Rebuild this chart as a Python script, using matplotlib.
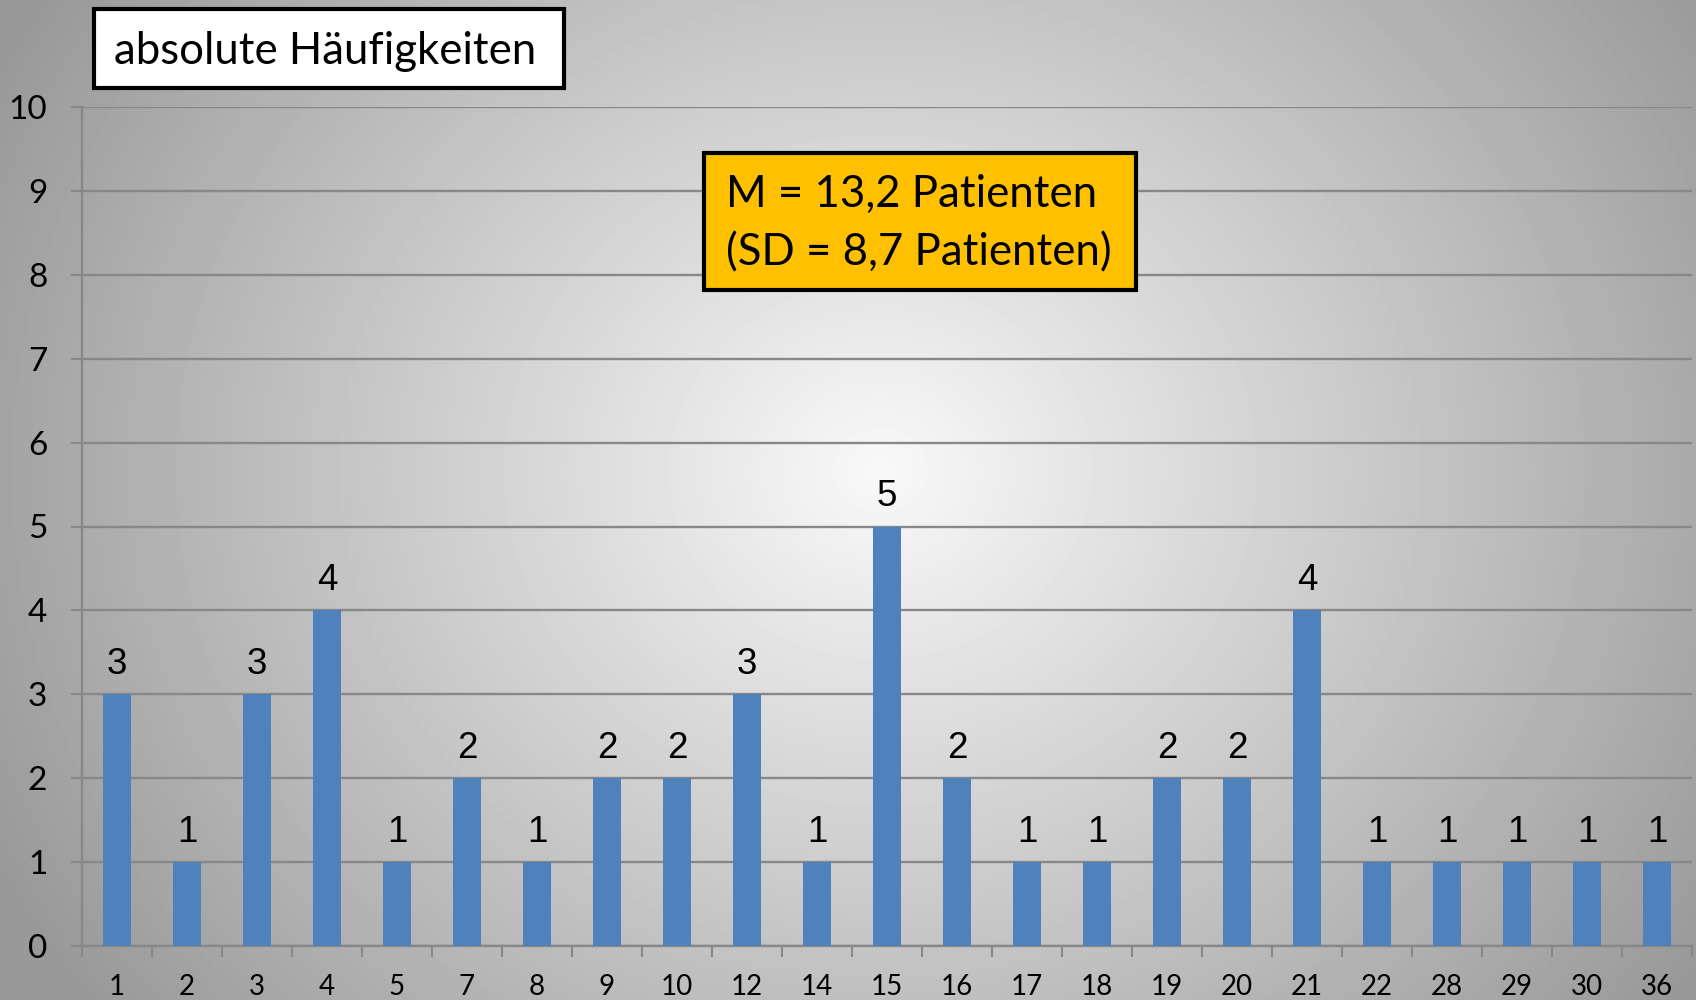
"""
Haeufigkeitsverteilung: Patienten pro Einheit (absolute Haeufigkeiten).
"""

import numpy as np
import matplotlib.pyplot as plt
from matplotlib.patches import Rectangle

# data
categories = ["1", "2", "3", "4", "5", "7", "8", "9", "10", "12", "14", "15",
              "16", "17", "18", "19", "20", "21", "22", "28", "29", "30", "36"]
counts = [3, 1, 3, 4, 1, 2, 1, 2, 2, 3, 1, 5, 2, 1, 1, 2, 2, 4, 1, 1, 1, 1, 1]
y_ticks = list(range(0, 11))

title_text = "absolute Häufigkeiten"
stats_lines = ["M = 13,2 Patienten", "(SD = 8,7 Patienten)"]

BAR_COLOR = "#4F81BD"
GRID_COLOR = "#888888"
CALIBRI_LIKE = ["Lato", "DejaVu Sans"]
ARIAL_LIKE = ["Liberation Sans", "DejaVu Sans"]

W, H = 1696, 1000
fig = plt.figure(figsize=(W / 100, H / 100), dpi=100)

# radial grey background, light in the middle
bg = fig.add_axes([0, 0, 1, 1], zorder=-10)
xx, yy = np.meshgrid(np.arange(W), np.arange(H))
r = np.sqrt(((xx - 880) / 920.0) ** 2 + ((yy - 470) / 820.0) ** 2)
shade = np.clip(0.975 - 0.35 * r, 0.6, 1.0)
bg.imshow(shade, cmap="gray", vmin=0, vmax=1, aspect="auto",
          extent=[0, W, H, 0], interpolation="bilinear")
bg.set_xlim(0, W)
bg.set_ylim(H, 0)
bg.axis("off")

ax = fig.add_axes([82 / W, 1 - 946 / H, (1692 - 82) / W, (946 - 107) / H])
ax.set_facecolor("none")

x = np.arange(len(categories))
ax.bar(x, counts, width=0.4, color=BAR_COLOR, zorder=3)

for xi, c in zip(x, counts):
    ax.annotate(str(c), (xi, c), xytext=(0, 9), textcoords="offset points",
                ha="center", va="bottom", fontsize=26.5, family=ARIAL_LIKE,
                color="black", zorder=4)

ax.set_xlim(-0.5, len(categories) - 0.5)
ax.set_ylim(0, 10)
ax.set_yticks(y_ticks)
ax.set_yticklabels([str(t) for t in y_ticks], fontsize=24, family=CALIBRI_LIKE)
ax.set_xticks(x)
ax.set_xticklabels(categories, fontsize=20, family=CALIBRI_LIKE)
ax.set_xticks(np.arange(-0.5, len(categories)), minor=True)

ax.tick_params(axis="x", which="major", length=0, pad=20)
ax.tick_params(axis="x", which="minor", length=8, width=1.5, color=GRID_COLOR)
ax.tick_params(axis="y", length=8, width=1.5, color=GRID_COLOR, pad=17)

ax.grid(axis="y", color=GRID_COLOR, linewidth=1.7, zorder=1)
ax.set_axisbelow(True)
for side in ["top", "right"]:
    ax.spines[side].set_visible(False)
for side in ["left", "bottom"]:
    ax.spines[side].set_color(GRID_COLOR)
    ax.spines[side].set_linewidth(1.7)

# title box (top left)
fig.patches.append(Rectangle((94 / W, 1 - 88 / H), (564 - 94) / W, (88 - 9) / H,
                             transform=fig.transFigure, facecolor="white",
                             edgecolor="black", linewidth=3, zorder=5))
fig.text(114 / W, 1 - 64 / H, title_text, fontsize=31.5, family=CALIBRI_LIKE,
         va="baseline", ha="left", zorder=6)

# yellow stats box
fig.patches.append(Rectangle((704 / W, 1 - 290 / H), (1136 - 704) / W, (290 - 153) / H,
                             transform=fig.transFigure, facecolor="#FFC000",
                             edgecolor="black", linewidth=3, zorder=5))
fig.text(726 / W, 1 - 207 / H, stats_lines[0], fontsize=31.5, family=CALIBRI_LIKE,
         va="baseline", ha="left", zorder=6)
fig.text(726 / W, 1 - 265 / H, stats_lines[1], fontsize=31.5, family=CALIBRI_LIKE,
         va="baseline", ha="left", zorder=6)

fig.savefig("out.png", dpi=100)
